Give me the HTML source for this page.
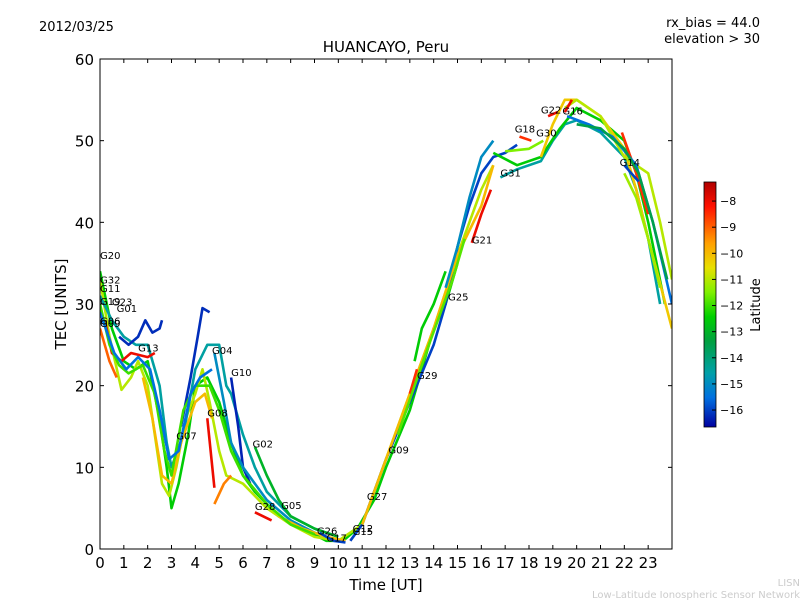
<!DOCTYPE html>
<html><head><meta charset="utf-8"><style>
body{margin:0;background:#fff;font-family:"Liberation Sans","DejaVu Sans",sans-serif;}
svg text{font-family:"DejaVu Sans","Liberation Sans",sans-serif;}
</style></head><body>
<svg id="chart" width="800" height="600" xmlns="http://www.w3.org/2000/svg">
<defs><linearGradient id="cb" x1="0" y1="0" x2="0" y2="1">
<stop offset="0" stop-color="#b00000"/><stop offset="0.1" stop-color="#ff1000"/><stop offset="0.25" stop-color="#ffa000"/><stop offset="0.35" stop-color="#e8e000"/><stop offset="0.45" stop-color="#80f000"/><stop offset="0.55" stop-color="#00d000"/><stop offset="0.65" stop-color="#00a040"/><stop offset="0.78" stop-color="#00a0a8"/><stop offset="0.88" stop-color="#0070e0"/><stop offset="1" stop-color="#0000a0"/>
</linearGradient><clipPath id="pc"><rect x="100" y="59" width="572" height="490"/></clipPath></defs>
<text x="39" y="31" font-size="13">2012/03/25</text>
<text x="760" y="27" font-size="13" text-anchor="end">rx_bias = 44.0</text>
<text x="760" y="43" font-size="13" text-anchor="end">elevation &gt; 30</text>
<text x="386" y="52" font-size="15" text-anchor="middle">HUANCAYO, Peru</text>
<text x="66" y="304" font-size="15" text-anchor="middle" transform="rotate(-90 66 304)">TEC [UNITS]</text>
<text x="386" y="590" font-size="15" text-anchor="middle">Time [UT]</text>
<text x="800" y="586" font-size="10" fill="#ccc" text-anchor="end">LISN</text>
<text x="800" y="598" font-size="10" fill="#ccc" text-anchor="end">Low-Latitude Ionospheric Sensor Network</text>
<g id="traces" clip-path="url(#pc)"></g>
<g id="labels"></g>
<rect x="100" y="59" width="572" height="490" fill="none" stroke="#000"/>
<g id="axes"></g>
<rect x="704" y="182" width="12" height="245" fill="url(#cb)" stroke="#000" stroke-width="0.8"/>
<g id="cbticks"></g>
<text x="760" y="305" font-size="13" text-anchor="middle" transform="rotate(-90 760 305)">Latitude</text>
</svg>
<script>
const xTicks=[0,1,2,3,4,5,6,7,8,9,10,11,12,13,14,15,16,17,18,19,20,21,22,23];
const yTicks=[0,10,20,30,40,50,60];
const cbTicks=[-8,-9,-10,-11,-12,-13,-14,-15,-16];
const traceLats=[-12.5,-11,-14.5,-16.2,-16.2,-8,-9,-10,-8,-9.3,-16.3,-13,-15,-8,-10,-16,-16,-10,-8.5,-12.5,-15,-8,-14.5,-12.5,-10.2,-11,-8.5,-11.2,-8,-8,-8.5,-16,-11.5,-15.5,-12,-15.5,-13.5,-11.8];
const traceData=[
[[0,34],[0.5,27],[1,23],[1.5,22],[2,23],[2.5,16],[2.8,10],[3,5],[3.3,8],[3.7,14],[4,20],[4.5,21],[5,18],[5.5,13],[6,9],[6.5,7],[7.5,4],[8.5,2.5],[9.5,1],[10.2,1],[10.8,2.5],[11.5,6],[12,10],[13,17],[13.5,22],[14,27],[14.5,30],[15,35]],
[[0,33],[0.4,26],[0.9,19.5],[1.3,21],[1.6,23],[2,20],[2.3,14],[2.6,8],[2.9,6.5],[3.2,10],[3.6,16],[4,19],[4.3,22],[4.6,18],[5,12],[5.3,9],[6,8],[7,5],[8,3],[9,1.5],[10,1],[11,3],[12,11],[13,19],[14,27],[15,36],[16,44],[16.5,47]],
[[0,31],[0.5,28],[1,26],[1.5,25],[2,25],[2.5,20],[2.8,13],[3,10],[3.5,14],[4,22],[4.5,25],[5,25],[5.3,20],[5.5,19],[6,14],[6.5,10],[7,7],[8,4],[9,2.5],[10,1.5]],
[[0.8,26],[1.2,25],[1.6,26],[1.9,28],[2.2,26.5],[2.5,27],[2.6,28]],
[[3.4,15],[3.8,21],[4.1,26],[4.3,29.5],[4.6,29]],
[[0.2,28],[0.5,24],[0.9,23],[1.3,24],[2,23.5],[2.3,24]],
[[0,27],[0.4,23],[0.7,21]],
[[1.8,21],[2.2,16],[2.6,9],[3,8],[3.4,13],[4,18],[4.4,19],[4.7,16]],
[[4.5,16],[4.8,7.5]],
[[4.8,5.5],[5.2,8],[5.5,9]],
[[5.5,21],[5.8,15],[6,10],[6.3,8]],
[[6.5,12.5],[7,9],[7.5,6],[8,4],[9,2.5],[10,1.5]],
[[4.8,24],[5.2,18],[5.5,13],[6,10],[7,6],[8,3.5],[9,2],[10,1]],
[[6.5,4.5],[7.2,3.5]],
[[7.5,4],[8.5,2.5],[9.5,1.5],[10.3,1]],
[[9.2,2],[9.8,1],[10.3,0.8]],
[[10.5,1],[11,3],[11.5,7],[12,11],[13,18],[14,25],[14.5,30],[15,37],[15.5,42],[16,46],[16.5,48],[17,48.5],[17.5,49.5]],
[[11,3],[12,11],[13,19],[14,27],[15,36],[16,42],[16.5,47]],
[[13,19],[13.3,22]],
[[13.2,23],[13.5,27],[14,30],[14.5,34]],
[[14.5,32],[15,37],[15.5,43],[16,48],[16.5,50]],
[[15.6,37.5],[16,41],[16.4,44]],
[[16.8,45.5],[17.5,46.5],[18.5,47.5],[19,50],[19.5,52],[20,52.5],[21,51],[22,48],[22.5,44],[23,38],[23.5,30]],
[[16.5,48.5],[17.5,47],[18.5,48],[19.3,51.5],[20,54],[21,52.5],[22,50],[22.5,46],[23,40],[23.7,30]],
[[18.5,48],[19,52],[19.5,55],[20,55],[21,53],[22,49],[22.5,44],[23,38],[24,27]],
[[19.5,54],[20,55],[21,53],[22,48],[23,46],[23.5,40],[24,33]],
[[21.9,51],[22.5,46],[23,41]],
[[22,46],[22.5,43],[23,38],[23.5,32]],
[[18.8,53],[19.2,53.5]],
[[19.5,53.5],[19.8,55]],
[[17.6,50.5],[18.1,50]],
[[22,47],[22.6,45]],
[[17,48.7],[18,49],[18.6,50]],
[[19.6,53],[20.5,52],[21.5,50.5],[22.5,47],[23.2,40],[23.6,35],[24,30]],
[[0,30],[0.4,25],[0.8,22.5],[1.2,21.5],[1.8,22.5],[2.3,19],[2.7,12],[3,9],[3.5,17],[4,20],[4.6,20],[5,17],[5.5,12],[6,9],[7,5.5],[8,3],[9,1.8]],
[[0,29],[0.6,24],[1.1,22],[1.6,23.5],[2.1,22],[2.5,17],[2.9,11],[3.3,12],[3.8,19],[4.2,21],[4.7,22]],
[[20,52],[21,51.5],[22,49],[22.6,46],[23.2,40],[23.8,33]],
[[12.5,14],[13.2,20],[13.8,25],[14.3,29],[14.8,33],[15.3,38]]
];
const prnNames=["G20","G32","G11","G19","G23","G01","G06","G09","G13","G07","G08","G04","G10","G02","G28","G05","G26","G17","G12","G15","G27","G09","G29","G25","G21","G31","G18","G30","G22","G16","G14"];
const prnPos=[[0,35.5],[0,32.5],[0,31.5],[0,29.9],[0.5,29.8],[0.7,29],[0,27.5],[0,27.2],[1.6,24.2],[3.2,13.4],[4.5,16.2],[4.7,23.9],[5.5,21.2],[6.4,12.4],[6.5,4.8],[7.6,4.9],[9.1,1.8],[9.5,0.9],[10.6,2.1],[10.6,1.7],[11.2,6],[12.1,11.7],[13.3,20.8],[14.6,30.4],[15.6,37.4],[16.8,45.6],[17.4,51],[18.3,50.5],[18.5,53.3],[19.4,53.2],[21.8,46.9]];
const NS='http://www.w3.org/2000/svg';
const X=h=>100+h*572/24, Y=v=>549-v*490/60, CBY=l=>182+( -7.27-l)/(16.65-7.27)*245;
const stops=[[0,[176,0,0]],[0.1,[255,16,0]],[0.25,[255,160,0]],[0.35,[232,224,0]],[0.45,[128,240,0]],[0.55,[0,208,0]],[0.65,[0,160,64]],[0.78,[0,160,168]],[0.88,[0,112,224]],[1,[0,0,160]]];
function col(l){let t=(-7.27-l)/(16.65-7.27);t=Math.max(0,Math.min(1,t));for(let i=1;i<stops.length;i++){if(t<=stops[i][0]){const a=stops[i-1],b=stops[i],f=(t-a[0])/(b[0]-a[0]);return 'rgb('+a[1].map((c,k)=>Math.round(c+(b[1][k]-c)*f)).join(',')+')';}}return 'rgb(0,0,160)';}
const tg=document.getElementById('traces');
traceData.forEach((d,i)=>{const p=document.createElementNS(NS,'polyline');
p.setAttribute('points',d.map(q=>X(q[0]).toFixed(1)+','+Y(q[1]).toFixed(1)).join(' '));
p.setAttribute('fill','none');p.setAttribute('stroke',col(traceLats[i]));p.setAttribute('stroke-width','2.6');p.setAttribute('stroke-linejoin','round');


tg.appendChild(p);});
const lg=document.getElementById('labels');
prnNames.forEach((n,i)=>{const t=document.createElementNS(NS,'text');t.setAttribute('x',X(prnPos[i][0]));t.setAttribute('y',Y(prnPos[i][1]));t.setAttribute('font-size','10');t.textContent=n;


lg.appendChild(t);});
const ax=document.getElementById('axes');
function el(tag,attrs,txt){const e=document.createElementNS(NS,tag);for(const k in attrs)e.setAttribute(k,attrs[k]);if(txt!==undefined)e.textContent=txt;return e;}
xTicks.forEach(h=>{const x=X(h);
const a=el('line',{x1:x,x2:x,y1:549,y2:545,stroke:'#000'});ax.appendChild(a);
const b=el('line',{x1:x,x2:x,y1:59,y2:63,stroke:'#000'});ax.appendChild(b);
const t=el('text',{x:x,y:568,'font-size':15,'text-anchor':'middle'},String(h));ax.appendChild(t);});
yTicks.forEach(v=>{const y=Y(v);
const a=el('line',{x1:100,x2:104,y1:y,y2:y,stroke:'#000'});ax.appendChild(a);
const b=el('line',{x1:668,x2:672,y1:y,y2:y,stroke:'#000'});ax.appendChild(b);
const t=el('text',{x:94,y:y+6,'font-size':15,'text-anchor':'end'},String(v));ax.appendChild(t);});
const cg=document.getElementById('cbticks');
cbTicks.forEach(l=>{const y=CBY(l);
const a=el('line',{x1:712,x2:716,y1:y,y2:y,stroke:'#000'});cg.appendChild(a);
const t=el('text',{x:720,y:y+4,'font-size':11},'\u2212'+Math.abs(l));cg.appendChild(t);});
</script>
</body></html>
